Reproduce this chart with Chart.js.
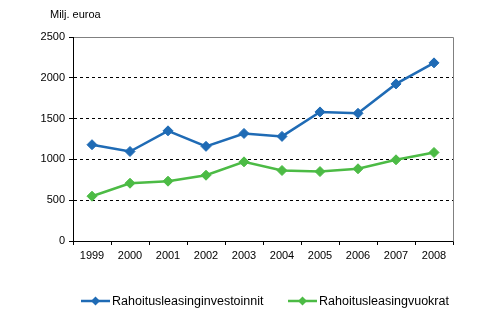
<!DOCTYPE html>
<html>
<head>
<meta charset="utf-8">
<script src="https://cdn.jsdelivr.net/npm/chart.js@4/dist/chart.umd.min.js"></script>
<style>
  html, body { margin: 0; padding: 0; background: #fff; }
  #wrap { width: 493px; height: 336px; position: relative; }
</style>
</head>
<body>
<div id="wrap"><canvas id="c" width="493" height="336"></canvas></div>
<script>
const years = ['1999', '2000', '2001', '2002', '2003', '2004', '2005', '2006', '2007', '2008'];
const investoinnit = [1180, 1097, 1350, 1160, 1318, 1282, 1582, 1565, 1925, 2183];
const vuokrat = [549, 708, 733, 806, 970, 864, 851, 885, 995, 1085];
const seriesNames = ['Rahoitusleasinginvestoinnit', 'Rahoitusleasingvuokrat'];
const yTicks = [0, 500, 1000, 1500, 2000, 2500];
const unitLabel = 'Milj. euroa';

const BLUE = '#1f6bb5';
const GREEN = '#4cbb45';
const FONT = '"Liberation Sans", Arial, sans-serif';

Chart.defaults.font.family = FONT;
Chart.defaults.font.size = 11;
Chart.defaults.color = '#000';

// Unit caption, grey frame on top/right and the custom line+marker legend
const decorations = {
  id: 'decorations',
  afterDraw(chart) {
    const ctx = chart.ctx;
    const a = chart.chartArea;
    ctx.save();
    // frame
    ctx.strokeStyle = '#808080';
    ctx.lineWidth = 1;
    ctx.beginPath();
    ctx.moveTo(Math.round(a.left) + 0.5, Math.round(a.top) + 0.5);
    ctx.lineTo(Math.round(a.right) + 0.5, Math.round(a.top) + 0.5);
    ctx.lineTo(Math.round(a.right) + 0.5, Math.round(a.bottom) + 0.5);
    ctx.stroke();
    // solid black value axis line
    ctx.strokeStyle = '#000';
    ctx.beginPath();
    ctx.moveTo(Math.round(a.left) + 0.5, Math.round(a.top));
    ctx.lineTo(Math.round(a.left) + 0.5, Math.round(a.bottom) + 1);
    ctx.stroke();

    // unit caption
    ctx.fillStyle = '#000';
    ctx.font = '11px ' + FONT;
    ctx.textBaseline = 'middle';
    ctx.textAlign = 'left';
    ctx.fillText(unitLabel, 50, 15);

    // legend
    const ly = 301;
    const items = [
      { x: 81, color: BLUE, text: chart.data.datasets[0].label },
      { x: 288, color: GREEN, text: chart.data.datasets[1].label }
    ];
    items.forEach(it => {
      ctx.strokeStyle = it.color;
      ctx.lineWidth = 2.5;
      ctx.beginPath();
      ctx.moveTo(it.x, ly);
      ctx.lineTo(it.x + 29, ly);
      ctx.stroke();
      const cx = it.x + 14.5;
      const r = 4.5;
      ctx.fillStyle = it.color;
      ctx.beginPath();
      ctx.moveTo(cx, ly - r);
      ctx.lineTo(cx + r, ly);
      ctx.lineTo(cx, ly + r);
      ctx.lineTo(cx - r, ly);
      ctx.closePath();
      ctx.fill();
      ctx.fillStyle = '#000';
      ctx.font = '12.5px ' + FONT;
      ctx.fillText(it.text, it.x + 31, ly + 0.5);
    });
    ctx.restore();
  }
};

new Chart(document.getElementById('c'), {
  type: 'line',
  data: {
    labels: years,
    datasets: [
      {
        label: seriesNames[0],
        data: investoinnit,
        borderColor: BLUE,
        backgroundColor: BLUE,
        borderWidth: 2.5,
        pointStyle: 'rectRot',
        pointRadius: 5,
        pointHoverRadius: 5,
        pointBorderWidth: 1,
        tension: 0
      },
      {
        label: seriesNames[1],
        data: vuokrat,
        borderColor: GREEN,
        backgroundColor: GREEN,
        borderWidth: 2.5,
        pointStyle: 'rectRot',
        pointRadius: 5,
        pointHoverRadius: 5,
        pointBorderWidth: 1,
        tension: 0
      }
    ]
  },
  options: {
    responsive: false,
    animation: false,
    devicePixelRatio: 1,
    layout: { padding: { left: 0, right: 40, top: 37, bottom: 0 } },
    plugins: {
      legend: { display: false },
      tooltip: { enabled: false },
      title: { display: false }
    },
    scales: {
      x: {
        offset: true,
        grid: {
          offset: true,
          drawOnChartArea: false,
          drawTicks: true,
          tickLength: 4,
          tickColor: '#000',
          tickBorderDash: []
        },
        border: { display: true, color: '#000', width: 1 },
        ticks: { color: '#000', padding: 4, maxRotation: 0, autoSkip: false, font: { size: 11 } },
        afterFit(scale) { scale.height = 95; }
      },
      y: {
        min: yTicks[0],
        max: yTicks[yTicks.length - 1],
        afterBuildTicks(scale) { scale.ticks = yTicks.map(v => ({ value: v })); },
        grid: {
          drawOnChartArea: true,
          color: ctx => (ctx.tick && (ctx.tick.value === 0 || ctx.tick.value === 2500)) ? 'rgba(0,0,0,0)' : '#000',
          lineWidth: 1,
          drawTicks: true,
          tickLength: 4,
          tickColor: '#000',
          tickBorderDash: []
        },
        border: { display: true, color: '#000', width: 1, dash: [3, 3] },
        ticks: {
          color: '#000',
          padding: 4,
          font: { size: 11 },
          callback: v => String(v)
        },
        afterFit(scale) { scale.width = 73; }
      }
    }
  },
  plugins: [decorations]
});
</script>
</body>
</html>
